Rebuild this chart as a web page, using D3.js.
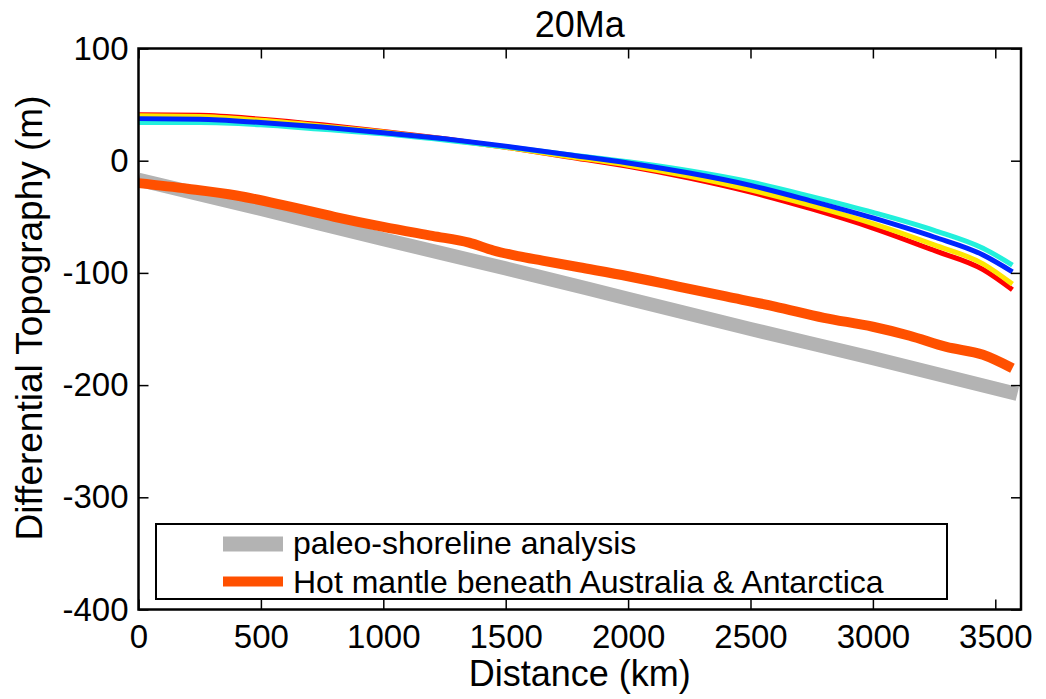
<!DOCTYPE html>
<html>
<head>
<meta charset="utf-8">
<script src="https://cdn.jsdelivr.net/npm/d3@7"></script>
<style>
body { margin: 0; background: #fff; }
text { font-family: "Liberation Sans", Arial, sans-serif; fill: #000; }
</style>
</head>
<body>
<div id="chart"></div>
<script>
var svgWidth = 1046;
var svgHeight = 699;

// distances (km) for the model curves
var distModel = [0, 250, 500, 750, 1000, 1250, 1500, 1750, 2000, 2250, 2500, 2750, 3000, 3250, 3450, 3570];
var redVals = [41, 40.5, 37, 32, 26, 19.5, 12, 3.5, -5, -15.5, -28, -43, -60, -80, -97, -115];
var yellowVals = [40, 39.5, 36, 31, 25.5, 19, 12, 4, -4, -14, -26, -40, -56, -75, -92, -110];
var cyanVals = [34, 34, 32, 28, 24, 18.5, 12.5, 5.5, -1, -9, -19, -32, -46, -62, -78, -93];
var blueVals = [37.5, 37, 34, 30, 25, 19.5, 13, 5.5, -2, -11, -22, -36, -51, -68, -84, -99];

var distHot = [0, 200, 400, 600, 800, 1000, 1200, 1350, 1450, 1550, 1650, 1800, 2000, 2200, 2400, 2600, 2800, 3000, 3150, 3300, 3450, 3570];
var hotVals = [-20, -25, -31, -40, -50, -59, -67, -73, -80, -85, -89, -95, -103, -112, -121, -130, -140, -148, -156, -166, -173, -185];

var distShore = [0, 500, 1000, 1500, 2000, 2500, 3000, 3590];
var shoreVals = [-17, -43, -70, -96, -123, -150, -176, -208];

var xTicks = [0, 500, 1000, 1500, 2000, 2500, 3000, 3500];
var yTicks = [100, 0, -100, -200, -300, -400];
var legendLabels = ["paleo-shoreline analysis", "Hot mantle beneath Australia & Antarctica"];

var pLeft = 138.5, pRight = 1021, pTop = 48.5, pBottom = 609.5;

var x = d3.scaleLinear().domain([0, 3605]).range([pLeft, pRight]);
var y = d3.scaleLinear().domain([-400, 100]).range([pBottom, pTop]);

var svg = d3.select("#chart")
	.append("svg")
	.attr("width", svgWidth)
	.attr("height", svgHeight);

svg.append("defs").append("clipPath")
	.attr("id", "plotclip")
	.append("rect")
	.attr("x", pLeft)
	.attr("y", pTop)
	.attr("width", pRight - pLeft)
	.attr("height", pBottom - pTop);

var plot = svg.append("g").attr("clip-path", "url(#plotclip)");

function drawLine(xs, ys, color, width) {
	var pts = xs.map(function(d, i) { return [d, ys[i]]; });
	plot.append("path")
		.datum(pts)
		.attr("fill", "none")
		.attr("stroke", color)
		.attr("stroke-width", width)
		.attr("stroke-linejoin", "round")
		.attr("d", d3.line()
			.x(function(d) { return x(d[0]); })
			.y(function(d) { return y(d[1]); })
			.curve(d3.curveMonotoneX));
}

drawLine(distShore, shoreVals, "#b3b3b3", 14);
drawLine(distHot, hotVals, "#ff5000", 10);
drawLine(distModel, redVals, "#ff0000", 5);
drawLine(distModel, yellowVals, "#ffe600", 5);
drawLine(distModel, cyanVals, "#22f0dc", 5);
drawLine(distModel, blueVals, "#0026ff", 5);

// plain hyphen for negatives, like the original
var plainFmt = function(d) { return String(d); };

// ticks pointing inward on all four sides
var tickLen = 10;
svg.append("g")
	.attr("transform", "translate(0," + pBottom + ")")
	.call(d3.axisBottom(x).tickValues(xTicks).tickSize(-tickLen).tickPadding(15).tickFormat(plainFmt))
	.call(function(g) { g.select(".domain").remove(); });
svg.append("g")
	.attr("transform", "translate(0," + pTop + ")")
	.call(d3.axisTop(x).tickValues(xTicks).tickSize(-tickLen).tickFormat(""))
	.call(function(g) { g.select(".domain").remove(); });
svg.append("g")
	.attr("transform", "translate(" + pLeft + ",0)")
	.call(d3.axisLeft(y).tickValues(yTicks).tickSize(-tickLen).tickPadding(10).tickFormat(plainFmt))
	.call(function(g) { g.select(".domain").remove(); });
svg.append("g")
	.attr("transform", "translate(" + pRight + ",0)")
	.call(d3.axisRight(y).tickValues(yTicks).tickSize(-tickLen).tickFormat(""))
	.call(function(g) { g.select(".domain").remove(); });

svg.selectAll(".tick line")
	.attr("stroke", "#000")
	.attr("stroke-width", 1.5);
svg.selectAll(".tick text")
	.attr("font-size", "33px")
	.attr("font-family", "Liberation Sans, Arial, sans-serif")
	.attr("fill", "#000");

svg.append("rect")
	.attr("x", pLeft)
	.attr("y", pTop)
	.attr("width", pRight - pLeft)
	.attr("height", pBottom - pTop)
	.attr("fill", "none")
	.attr("stroke", "#000")
	.attr("stroke-width", 2.5);

// title and axis labels
svg.append("text")
	.text("20Ma")
	.attr("x", (pLeft + pRight) / 2)
	.attr("y", 37)
	.attr("text-anchor", "middle")
	.attr("font-size", "36px");

svg.append("text")
	.text("Distance (km)")
	.attr("x", (pLeft + pRight) / 2)
	.attr("y", 686)
	.attr("text-anchor", "middle")
	.attr("font-size", "36px");

svg.append("text")
	.text("Differential Topography (m)")
	.attr("transform", "translate(42,318) rotate(-90)")
	.attr("text-anchor", "middle")
	.attr("font-size", "37px");

// legend
var legend = svg.append("g");
legend.append("rect")
	.attr("x", 156)
	.attr("y", 524)
	.attr("width", 791)
	.attr("height", 75)
	.attr("fill", "#fff")
	.attr("stroke", "#000")
	.attr("stroke-width", 2);

var legendColors = ["#b3b3b3", "#ff5000"];
var legendWidths = [15, 10];
legend.selectAll("line.key")
	.data(legendLabels)
	.enter()
	.append("line")
	.attr("class", "key")
	.attr("x1", 223)
	.attr("x2", 283)
	.attr("y1", function(d, i) { return 544 + i * 37.5; })
	.attr("y2", function(d, i) { return 544 + i * 37.5; })
	.attr("stroke", function(d, i) { return legendColors[i]; })
	.attr("stroke-width", function(d, i) { return legendWidths[i]; });

legend.selectAll("text")
	.data(legendLabels)
	.enter()
	.append("text")
	.text(function(d) { return d; })
	.attr("x", 293)
	.attr("y", function(d, i) { return 554 + i * 38.5; })
	.attr("font-size", "32px");
</script>
</body>
</html>
